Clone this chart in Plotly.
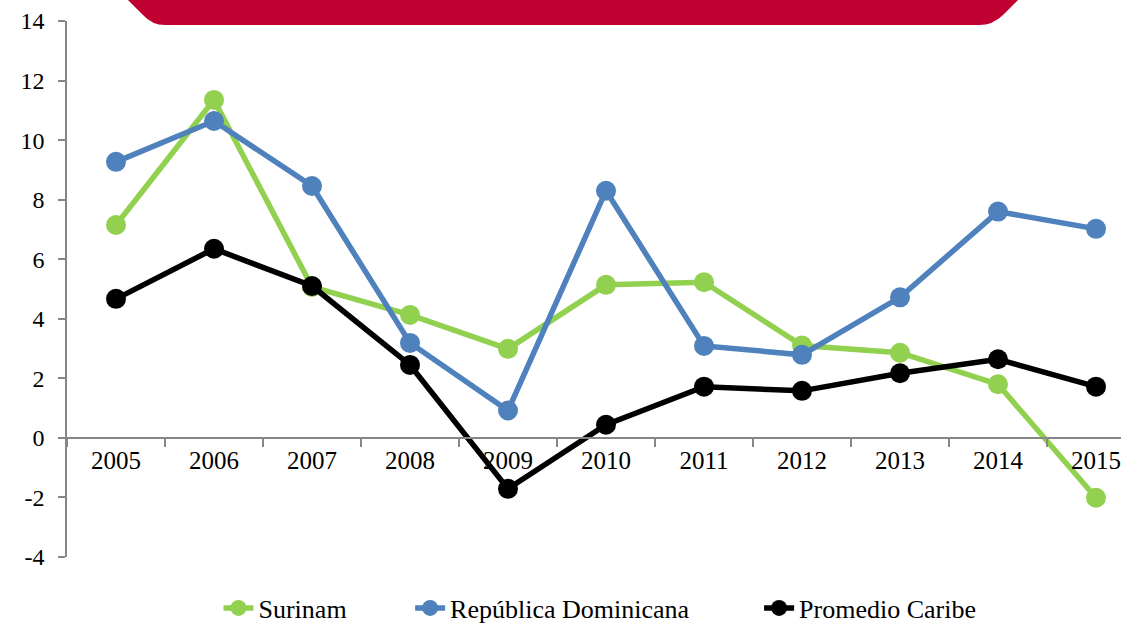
import plotly.graph_objects as go

years = ["2005", "2006", "2007", "2008", "2009", "2010", "2011", "2012", "2013", "2014", "2015"]
surinam = [7.15, 11.35, 5.07, 4.13, 2.99, 5.14, 5.23, 3.10, 2.86, 1.80, -2.01]
rep_dom = [9.27, 10.64, 8.46, 3.19, 0.92, 8.30, 3.09, 2.79, 4.72, 7.60, 7.02]
promedio = [4.67, 6.35, 5.10, 2.45, -1.71, 0.44, 1.72, 1.58, 2.17, 2.64, 1.72]
y_ticks = [-4, -2, 0, 2, 4, 6, 8, 10, 12, 14]
y_tick_text = ["-4", "-2", "0", "2", "4", "6", "8", "10", "12", "14"]

NB = "\u00a0"
series = [
    ("Surinam" + NB * 9, surinam, "#92D050"),
    ("República Dominicana" + NB * 10, rep_dom, "#4F81BD"),
    ("Promedio Caribe", promedio, "#000000"),
]

W, H = 1121, 623
PL, PT, PB = 67, 21, 557  # plot area in page pixels
L, T, R = PL, PT, 0
B = H - PB
pw, ph = W - L - R, H - T - B

def px(x):
    return (x - PL) / pw

def py(y):
    return (PB - y) / ph

fig = go.Figure()
for name, vals, col in series:
    fig.add_trace(go.Scatter(
        x=years, y=vals, name=name, mode="lines+markers",
        line=dict(color=col, width=5.5),
        marker=dict(color=col, size=20),
    ))

# red banner at the top
path = (
    f"M {px(120)},{py(-8)} L {px(143)},{py(15)} "
    f"Q {px(152)},{py(25)} {px(165)},{py(25)} "
    f"L {px(979)},{py(25)} "
    f"Q {px(993)},{py(25)} {px(1003)},{py(15)} "
    f"L {px(1026)},{py(-8)} Z"
)
fig.add_shape(type="path", path=path, xref="paper", yref="paper",
              fillcolor="#C00030", line=dict(width=0), layer="above")

font_family = "Liberation Serif, Times New Roman, serif"
fig.update_layout(
    width=W, height=H,
    margin=dict(l=L, r=R, t=T, b=B, autoexpand=False),
    paper_bgcolor="white", plot_bgcolor="white",
    font=dict(family=font_family, size=25, color="black"),
    showlegend=True,
    legend=dict(orientation="h", x=px(600), xanchor="center", y=py(608), yanchor="middle",
                font=dict(size=26), traceorder="normal"),
    xaxis=dict(
        type="category", range=[-0.5, 10.255], anchor="free", position=py(438),
        automargin=False,
        showline=True, linecolor="#868686", linewidth=1.5,
        ticks="outside", tickson="boundaries", ticklen=8, tickcolor="#868686", tickwidth=1.5,
        showgrid=False, zeroline=False, tickfont=dict(size=25),
    ),
    yaxis=dict(
        range=[-4, 14], tickvals=y_ticks, ticktext=y_tick_text, automargin=False,
        showline=True, linecolor="#868686", linewidth=1.5,
        ticks="outside", ticklen=7, tickcolor="#868686", tickwidth=1.5,
        showgrid=False, zeroline=False, tickfont=dict(size=24), ticklabelstandoff=9,
    ),
)

fig.write_html(
    "out.html",
    config={"displayModeBar": False},
    post_script="document.body.style.margin='0';document.body.style.overflow='hidden';",
)
